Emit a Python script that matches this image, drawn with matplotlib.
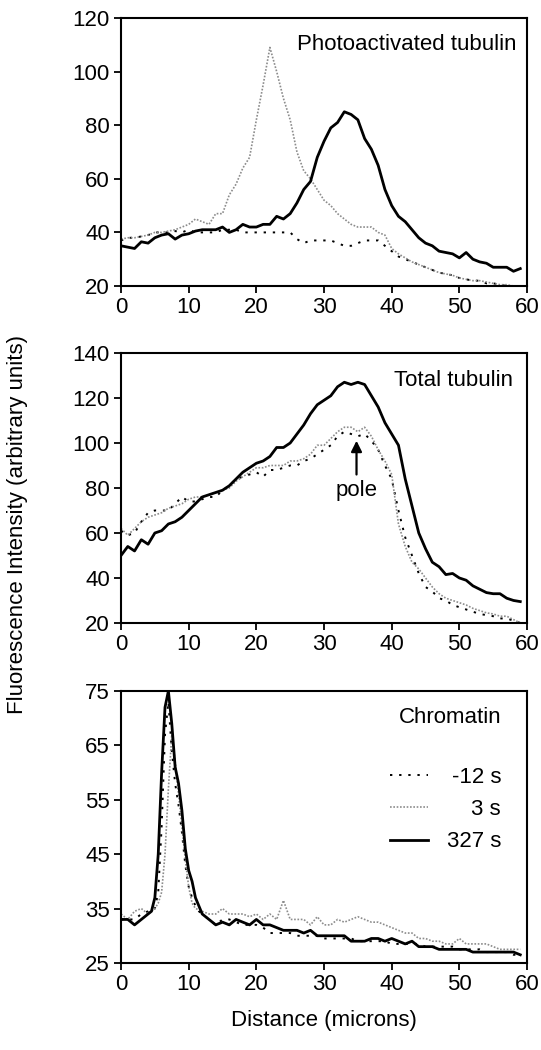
import matplotlib
matplotlib.use("Agg")
import matplotlib.pyplot as plt

plt.rcParams['font.family'] = ['Liberation Sans', 'DejaVu Sans']
plt.rcParams['font.size'] = 16

# ---- data ----
x = list(range(60))

# Photoactivated tubulin
photo_m12 = [37, 38, 38, 38.5, 39, 40, 40, 40, 40.5, 40, 41, 40, 40, 40, 40, 41, 41, 41, 40, 40,
             40, 40, 40, 40, 40, 40, 37.5, 36, 37, 37, 37, 37, 36, 35, 35, 36, 37, 37, 37, 35,
             33, 31, 30, 29, 28, 27, 26, 25, 24.5, 24, 23, 22.5, 22, 22, 21, 21, 20.5, 20, 19.5, 19]
photo_3 = [37.5, 38, 38, 38.5, 39, 40, 40, 40.5, 41, 42, 43, 45, 44, 43, 47, 47, 54, 58, 64, 68,
           82, 95, 109, 100, 90, 82, 70, 63, 60, 56, 52, 50, 47, 45, 43, 42, 42, 42, 40, 39,
           34, 32, 30.5, 29, 28, 27, 26, 25, 24.5, 24, 23, 22.5, 22, 22, 21.5, 21, 20.5, 20.5, 20, 20]
photo_327 = [35, 34.5, 34, 36.5, 36, 38, 39, 39.5, 37.5, 39, 39.5, 40.5, 41, 41, 41, 42, 40, 41, 43, 42,
             42, 43, 43, 46, 45, 47, 51, 56, 59, 68, 74, 79, 81, 85, 84, 82, 75, 71, 65, 56,
             50, 46, 44, 41, 38, 36, 35, 33, 32.5, 32, 30.5, 32.5, 30, 29, 28.5, 27, 27, 27, 25.5, 26.5]

# Total tubulin
total_m12 = [61, 59, 60, 65, 69, 70, 70, 70, 73, 76, 74, 74, 75, 76, 76, 79, 81, 84, 85, 86,
             87, 85, 88, 88, 89, 90, 90, 92, 93, 95, 97, 99, 103, 105, 104, 103, 104, 101, 97, 90,
             84, 70, 58, 50, 42, 36, 34, 31, 30, 28, 27, 26, 25, 24, 23.5, 23, 22, 22, 21, 20]
total_3 = [62, 59, 62, 65, 67, 68, 69, 71, 72, 73, 75, 76, 76, 77, 78, 79, 80, 83, 85, 87,
           89, 89, 90, 90, 90, 92, 92, 93, 95, 99, 99, 102, 105, 107, 107, 105, 107, 103, 97, 92,
           86, 64, 54, 47, 44, 40, 36, 33, 31, 30, 29, 28, 26.5, 25.5, 24.5, 24, 23, 23, 21.5, 20]
total_327 = [50, 54, 52, 57, 55, 60, 61, 64, 65, 67, 70, 73, 76, 77, 78, 79, 81, 84, 87, 89,
             91, 92, 94, 98, 98, 100, 104, 108, 113, 117, 119, 121, 125, 127, 126, 127, 126, 121, 116, 109,
             104, 99, 84, 72, 60, 53, 47, 45, 41.5, 42, 40, 39, 36.5, 35, 33.5, 33, 33, 31, 30, 29.5]

# Chromatin (finer sampling around the peak)
chrom_x = [0, 1, 2, 3, 4, 4.5, 5, 5.5, 6, 6.5, 7, 7.5, 8, 8.5, 9, 9.5, 10, 10.5, 11, 11.5] + list(range(12, 60))
chrom_m12 = [33, 33, 33, 34, 34.5, 35, 35, 38, 50, 67, 73, 64, 58, 54, 49, 43, 39, 37, 35.5, 34.5,
             34, 33, 32, 33, 33, 32.5, 32, 32, 32, 31.5, 30.5, 30.5, 30.5, 30.5, 30, 30, 30, 30,
             29.5, 29.5, 29.5, 29.5, 29.5, 29, 29, 29, 29, 29, 28.5, 28.5, 28.5, 28.5, 28.5, 28, 28, 28,
             28, 28, 27.5, 27.5, 27.5, 27.5, 27, 27, 27, 27, 26.5, 26.5]
chrom_3 = [34, 33, 34.5, 35, 34, 34.5, 35, 36, 38, 45, 57, 67, 62, 56, 50, 44, 39, 36, 35, 34.8,
           34.5, 34, 34, 35, 34, 34, 34, 33.5, 34, 33, 34, 33, 36.5, 33, 33, 33, 32, 33.5,
           32, 32, 33, 32.5, 33, 33.5, 33, 32.5, 32.5, 32, 31.5, 31, 30.5, 30.5, 29.5, 29.5, 29, 29,
           28.5, 28.5, 29.5, 28.5, 28.5, 28.5, 28.5, 28, 27.5, 27.5, 27.5, 27.5]
chrom_327 = [33, 33, 32, 33, 34, 34.5, 37, 45, 60, 72, 75, 69, 61, 58, 53, 46, 42, 40, 37, 35.5,
             34, 33, 32, 32.5, 32, 33, 32.5, 32, 33, 32, 32, 31.5, 31, 31, 31, 30.5, 31, 30,
             30, 30, 30, 30, 29, 29, 29, 29.5, 29.5, 29, 29.5, 29, 28.5, 29, 28, 28, 28, 27.5,
             27.5, 27.5, 27.5, 27.5, 27, 27, 27, 27, 27, 27, 27, 26.5]

labels = ['-12 s', '3 s', '327 s']

fig = plt.figure(figsize=(5.41, 10.5), dpi=100)
ax1 = fig.add_axes([0.2237, 0.7276, 0.7505, 0.2553])
ax2 = fig.add_axes([0.2237, 0.4067, 0.7505, 0.2571])
ax3 = fig.add_axes([0.2237, 0.0829, 0.7505, 0.2590])

m12_style = dict(color='black', lw=1.4, linestyle=(0, (1.2, 3.5)))
s3_style = dict(color='#8c8c8c', lw=1.2, linestyle=(0, (1, 1)))
s327_style = dict(color='black', lw=2.0, linestyle='-')


def draw(ax, xs, a, b, c):
    ax.plot(xs, a, label=labels[0], **m12_style)
    ax.plot(xs, b, label=labels[1], **s3_style)
    ax.plot(xs, c, label=labels[2], **s327_style)


draw(ax1, x, photo_m12, photo_3, photo_327)
draw(ax2, x, total_m12, total_3, total_327)
draw(ax3, chrom_x, chrom_m12, chrom_3, chrom_327)

ax1.set_ylim(20, 120)
ax1.set_yticks(range(20, 121, 20))
ax2.set_ylim(20, 140)
ax2.set_yticks(range(20, 141, 20))
ax3.set_ylim(25, 75)
ax3.set_yticks(range(25, 76, 10))

for ax in (ax1, ax2, ax3):
    ax.set_xlim(0, 60)
    ax.set_xticks(range(0, 61, 10))
    ax.tick_params(direction='out', length=5, width=1.3, labelsize=16, pad=3)
    for sp in ax.spines.values():
        sp.set_linewidth(1.5)

ax1.text(0.975, 0.90, 'Photoactivated tubulin', transform=ax1.transAxes, ha='right', va='center')
ax2.text(0.966, 0.90, 'Total tubulin', transform=ax2.transAxes, ha='right', va='center')
ax3.text(0.936, 0.904, 'Chromatin', transform=ax3.transAxes, ha='right', va='center')

# pole marker
ax2.annotate('', xy=(34.8, 101), xytext=(34.8, 86),
             arrowprops=dict(arrowstyle='-|>', color='black', lw=1.6, mutation_scale=16,
                             shrinkA=0, shrinkB=0))
ax2.text(34.8, 79, 'pole', ha='center', va='center')

leg = ax3.legend(loc='upper right', bbox_to_anchor=(0.936, 0.72), frameon=False,
                 borderpad=0, borderaxespad=0,
                 handlelength=1.7, handletextpad=0.85, labelspacing=0.5, fontsize=16)
# right-align the legend labels
fig.canvas.draw()
renderer = fig.canvas.get_renderer()
widths = [t.get_window_extent(renderer).width for t in leg.get_texts()]
shift = max(widths)
for t, w in zip(leg.get_texts(), widths):
    t.set_position((shift - w, 0))

fig.text(0.033, 0.5, 'Fluorescence Intensity (arbitrary units)', rotation=90,
         ha='center', va='center', fontsize=16)
fig.text(0.599, 0.028, 'Distance (microns)', ha='center', va='center', fontsize=16)

fig.savefig('out.png', dpi=100)
